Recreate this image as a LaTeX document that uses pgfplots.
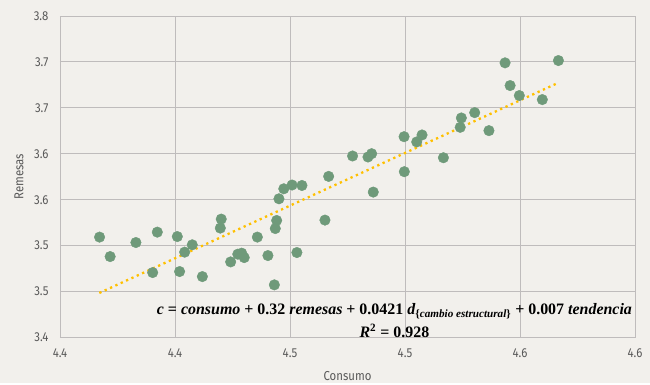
\documentclass[border=0pt]{standalone}
\usepackage{fontspec}
\setmainfont{Fira Sans}[FakeStretch=0.88]
\newfontfamily\eqf{Liberation Serif}
\usepackage{pgfplots}
\pgfplotsset{compat=1.18}
\definecolor{bgc}{RGB}{242,240,236}
\definecolor{gridc}{RGB}{191,188,188}
\definecolor{dotc}{RGB}{111,154,122}
\definecolor{trendc}{RGB}{255,192,0}
\definecolor{txtc}{RGB}{89,89,89}
\begin{document}
\begin{tikzpicture}
\fill[bgc] (-60bp,-45.5bp) rectangle (590bp,337.5bp);
\begin{axis}[at={(0,0)}, anchor=south west, scale only axis,
  width=575bp, height=321.5bp,
  xmin=4.35, xmax=4.60, ymin=3.40, ymax=3.75,
  xtick={4.35,4.40,4.45,4.50,4.55,4.60},
  xticklabels={4.4,4.4,4.5,4.5,4.6,4.6},
  ytick={3.40,3.45,3.50,3.55,3.60,3.65,3.70,3.75},
  yticklabels={3.4,3.5,3.5,3.6,3.6,3.7,3.7,3.8},
  grid=major, major grid style={gridc, line width=1pt},
  axis line style={gridc, line width=1pt},
  major tick length=0pt,
  tick label style={font=\fontsize{13}{15}\selectfont, text=txtc},
  xticklabel style={yshift=-8pt},
  yticklabel style={xshift=-8pt},
  xlabel={Consumo}, ylabel={Remesas},
  label style={font=\fontsize{13}{15}\selectfont, text=txtc},
  xlabel style={at={(axis description cs:0.5,-0.1213)}, anchor=center},
  ylabel style={at={(axis description cs:-0.0713,0.5)}, anchor=center},
  clip=false,
]
\addplot[only marks, mark=*, mark size=5.3pt, draw=dotc, fill=dotc] table[x=x, y=y] {
x y
4.3672 3.5093
4.3718 3.4881
4.3830 3.5034
4.3903 3.4707
4.3923 3.5147
4.4010 3.5099
4.4020 3.4718
4.4042 3.4929
4.4075 3.5009
4.4119 3.4663
4.4201 3.5289
4.4197 3.5191
4.4242 3.4823
4.4273 3.4907
4.4290 3.4918
4.4301 3.4870
4.4358 3.5093
4.4404 3.4892
4.4432 3.4573
4.4436 3.5186
4.4442 3.5274
4.4452 3.5510
4.4473 3.5619
4.4509 3.5660
4.4552 3.5655
4.4530 3.4925
4.4652 3.5278
4.4668 3.5754
4.4772 3.5976
4.4839 3.5965
4.4855 3.6001
4.4862 3.5583
4.4996 3.6186
4.4997 3.5805
4.5051 3.6129
4.5074 3.6205
4.5167 3.5957
4.5240 3.6288
4.5245 3.6390
4.5303 3.6448
4.5365 3.6252
4.5435 3.6990
4.5457 3.6743
4.5497 3.6634
4.5597 3.6590
4.5667 3.7015
};
\addplot[trendc, line width=2.3pt, dash pattern=on 2.3pt off 3.6pt] coordinates {(4.3671,3.4485) (4.5664,3.6770)};
\coordinate (eqa) at (axis cs:4.4954,3.4285);
\coordinate (eqb) at (axis cs:4.4954,3.4075);
\end{axis}
\node[font=\eqf\bfseries\fontsize{16}{18}\selectfont, text=black] at (eqa) {\textit{c} = \textit{consumo} + 0.32 \textit{remesas} + 0.0421 \textit{d}\textsubscript{\{\textit{cambio estructural}\}} + 0.007 \textit{tendencia}};
\node[font=\eqf\bfseries\fontsize{16}{18}\selectfont, text=black] at (eqb) {\textit{R}\textsuperscript{2} = 0.928};
\end{tikzpicture}
\end{document}
